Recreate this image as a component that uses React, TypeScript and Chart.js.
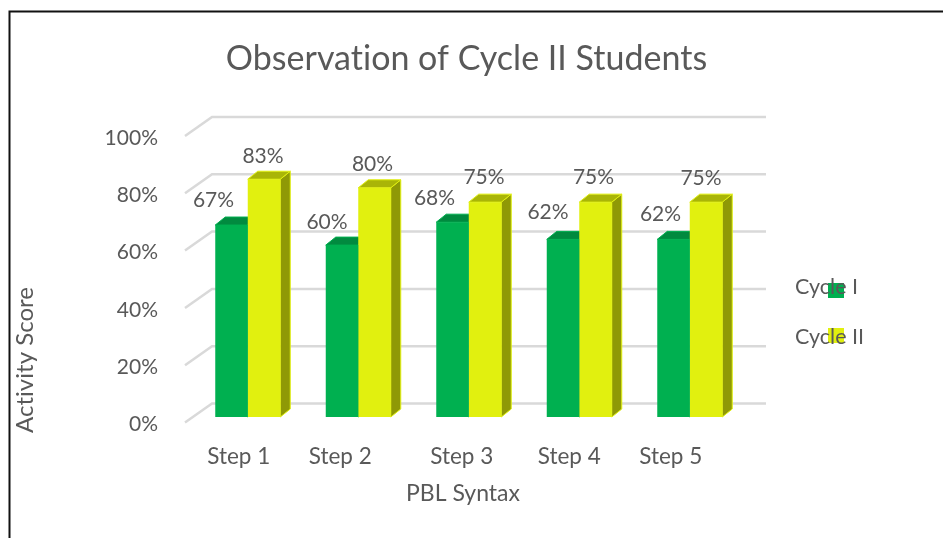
import React, { useEffect, useRef } from "react";
import { Chart, registerables } from "chart.js";

Chart.register(...registerables);

const categories = ["Step 1", "Step 2", "Step 3", "Step 4", "Step 5"];
const cycle1 = [67, 60, 68, 62, 62];
const cycle2 = [83, 80, 75, 75, 75];
const yTicks = [0, 20, 40, 60, 80, 100];

const TITLE = "Observation of Cycle II Students";
const Y_TITLE = "Activity Score";
const X_TITLE = "PBL Syntax";

// Small hand nudges relative to the library's own positions
const tickShift = [-9, -18, -7, -10, -19];
const labelDx = [
  [-18, -15, -18, -15, -13],
  [-1, -2, -1, -2, -5],
];
const labelDy = [
  [-25, -23, -24, -27, -25],
  [-23, -24, -25, -25, -24],
];

const FONT = "Lato, 'Open Sans', sans-serif";
const TEXT = "#595959";
const GRID = "#d9d9d9";
const GREEN = "#00b050";
const GREEN_TOP = "#018a3f";
const YELLOW = "#e1f00f";
const YELLOW_TOP = "#a9b507";
const YELLOW_SIDE = "#8f9906";
const DEPTH_X = 10;
const DEPTH_Y = 8;

const poly = (ctx: CanvasRenderingContext2D, pts: number[][], fill: string, stroke?: string) => {
  ctx.beginPath();
  pts.forEach(([x, y], i) => (i ? ctx.lineTo(x, y) : ctx.moveTo(x, y)));
  ctx.closePath();
  ctx.fillStyle = fill;
  ctx.fill();
  if (stroke) {
    ctx.strokeStyle = stroke;
    ctx.lineWidth = 1;
    ctx.stroke();
  }
};

const scenePlugin = {
  id: "scene",
  beforeDraw(chart: any) {
    const { ctx, width, height } = chart;
    // Keep "ti" from forming a ligature, as Calibri-style text in the reference does not
    (ctx as any).letterSpacing = "0.01px";
    // Title centring
    chart.titleBlock.left = 0;
    chart.titleBlock.right = 933;
    // Per-tick label shifts
    const items = chart.scales.x.getLabelItems();
    items.forEach((it: any, i: number) => {
      if (!it.__moved) {
        it.options.translation[0] += tickShift[i] ?? 0;
        it.__moved = true;
      }
    });
    // Frame
    ctx.save();
    ctx.fillStyle = "#fff";
    ctx.fillRect(0, 0, width, height);
    ctx.strokeStyle = "#111";
    ctx.lineWidth = 2;
    ctx.beginPath();
    ctx.moveTo(9.5, height);
    ctx.lineTo(9.5, 11.5);
    ctx.lineTo(width, 11.5);
    ctx.stroke();
    ctx.restore();
  },
  beforeDatasetsDraw(chart: any) {
    const { ctx } = chart;
    const y = chart.scales.y;
    ctx.save();
    // 3D walls: floor/back gridlines
    ctx.strokeStyle = GRID;
    ctx.lineWidth = 2.5;
    yTicks.forEach((v) => {
      const p = y.getPixelForValue(v);
      ctx.beginPath();
      ctx.moveTo(185, p + 5.5);
      ctx.lineTo(212, p - 13.5);
      ctx.lineTo(766, p - 13.5);
      ctx.stroke();
    });
    // Depth faces of the bars
    chart.data.datasets.forEach((_: any, di: number) => {
      chart.getDatasetMeta(di).data.forEach((bar: any) => {
        const half = bar.width / 2;
        const l = bar.x - half;
        const r = bar.x + half;
        const t = bar.y;
        const b = bar.base;
        const top = di === 0 ? GREEN_TOP : YELLOW_TOP;
        const side = di === 0 ? GREEN_TOP : YELLOW_SIDE;
        const edge = di === 0 ? GREEN : YELLOW;
        poly(ctx, [[r, t], [r + DEPTH_X, t - DEPTH_Y], [r + DEPTH_X, b - DEPTH_Y], [r, b]], side, edge);
        poly(ctx, [[l, t], [l + DEPTH_X, t - DEPTH_Y], [r + DEPTH_X, t - DEPTH_Y], [r, t]], top, edge);
      });
    });
    ctx.restore();
  },
  afterDraw(chart: any) {
    const { ctx } = chart;
    ctx.save();
    ctx.fillStyle = TEXT;
    ctx.font = `21px ${FONT}`;
    ctx.textAlign = "center";
    ctx.textBaseline = "middle";
    // Value labels
    chart.data.datasets.forEach((ds: any, di: number) => {
      chart.getDatasetMeta(di).data.forEach((bar: any, i: number) => {
        ctx.fillText(`${ds.data[i]}%`, bar.x + labelDx[di][i], bar.y + labelDy[di][i]);
      });
    });
    // Axis titles
    ctx.font = `23px ${FONT}`;
    ctx.fillText(X_TITLE, 463, 494);
    ctx.save();
    ctx.translate(25, 360);
    ctx.rotate(-Math.PI / 2);
    ctx.font = `24px ${FONT}`;
    ctx.fillText(Y_TITLE, 0, 0);
    ctx.restore();
    // Legend: swatch sits under its text, as in the reference
    const rows = [
      { y: 290.5, text: 287, color: GREEN },
      { y: 335.5, text: 337, color: YELLOW },
    ];
    ctx.textAlign = "left";
    ctx.font = `21.5px ${FONT}`;
    chart.data.datasets.forEach((ds: any, i: number) => {
      const r = rows[i];
      ctx.fillStyle = r.color;
      ctx.fillRect(828, r.y - 7.5, 16, 15);
      ctx.fillStyle = TEXT;
      ctx.fillText(ds.label, 795, r.text);
    });
    ctx.restore();
  },
};

export default function App() {
  const ref = useRef<HTMLCanvasElement>(null);
  useEffect(() => {
    const chart = new Chart(ref.current!, {
      type: "bar",
      data: {
        labels: categories,
        datasets: [
          { label: "Cycle I", data: cycle1, backgroundColor: GREEN },
          { label: "Cycle II", data: cycle2, backgroundColor: YELLOW },
        ],
      },
      options: {
        animation: false,
        responsive: false,
        categoryPercentage: 65 / 110.5,
        barPercentage: 1,
        layout: { padding: { left: 0, right: 198, top: 0, bottom: 0 } },
        plugins: {
          legend: { display: false },
          tooltip: { enabled: false },
          title: {
            display: true,
            text: TITLE,
            color: TEXT,
            font: { family: FONT, size: 34, weight: "normal" },
            padding: { top: 39, bottom: 130.5 - 39 - 40.8 },
          },
        },
        scales: {
          x: {
            grid: { display: false },
            border: { display: false },
            afterFit(s: any) {
              s.height = 121;
            },
            ticks: {
              color: TEXT,
              font: { family: FONT, size: 22.5 },
              autoSkip: false,
              maxRotation: 0,
              padding: 18,
            },
          },
          y: {
            min: 0,
            max: 100,
            grid: { display: false },
            border: { display: false },
            afterFit(s: any) {
              s.width = 192.5;
            },
            ticks: {
              color: TEXT,
              font: { family: FONT, size: 21 },
              stepSize: 20,
              padding: 26.5,
              labelOffset: 7.5,
              callback: (v: any) => `${v}%`,
            },
          },
        },
      } as any,
      plugins: [scenePlugin],
    });
    return () => chart.destroy();
  }, []);
  return (
    <div style={{ position: "fixed", left: 0, top: 0, width: 943, height: 538 }}>
      <canvas ref={ref} width={943} height={538} style={{ display: "block" }} />
    </div>
  );
}
